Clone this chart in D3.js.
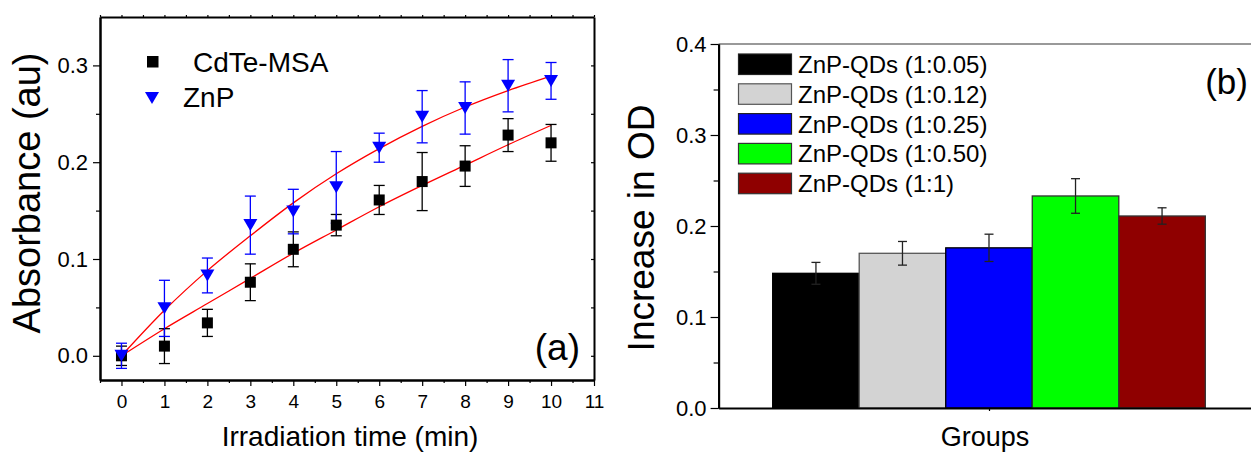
<!DOCTYPE html>
<html>
<head>
<meta charset="utf-8">
<script src="https://cdn.jsdelivr.net/npm/d3@7"></script>
<style>
  html, body { margin: 0; padding: 0; background: #fff; }
  svg { display: block; font-family: Arial, "Liberation Sans", sans-serif; }
</style>
</head>
<body>
<svg id="chart" width="1251" height="453"></svg>
<script>
// ---------- Panel (a) data ----------
const times = [0, 1, 2, 3, 4, 5, 6, 7, 8, 9, 10];
const cdteValues = [0.000, 0.010, 0.034, 0.076, 0.110, 0.135, 0.161, 0.180, 0.196, 0.228, 0.220];
const cdteErrors = [0.010, 0.018, 0.014, 0.019, 0.018, 0.011, 0.015, 0.030, 0.021, 0.017, 0.019];
const znpValues  = [0.000, 0.049, 0.083, 0.135, 0.149, 0.174, 0.215, 0.247, 0.256, 0.279, 0.284];
const znpErrors  = [0.013, 0.029, 0.018, 0.030, 0.023, 0.037, 0.015, 0.027, 0.027, 0.027, 0.019];
const cdteFit    = [0.000, 0.028, 0.054, 0.080, 0.106, 0.130, 0.154, 0.176, 0.197, 0.218, 0.238];
const znpFit     = [0.000, 0.047, 0.088, 0.124, 0.158, 0.188, 0.214, 0.237, 0.257, 0.274, 0.289];
const xTicksA = [0, 1, 2, 3, 4, 5, 6, 7, 8, 9, 10, 11];
const yTicksA = [0.0, 0.1, 0.2, 0.3];
const seriesNamesA = ["CdTe-MSA", "ZnP"];

// ---------- Panel (b) data ----------
const groups = ["ZnP-QDs (1:0.05)", "ZnP-QDs (1:0.12)", "ZnP-QDs (1:0.25)", "ZnP-QDs (1:0.50)", "ZnP-QDs (1:1)"];
const barValues = [0.148, 0.170, 0.176, 0.233, 0.211];
const barErrors = [0.012, 0.013, 0.015, 0.019, 0.009];
const yTicksB = [0.0, 0.1, 0.2, 0.3, 0.4];

// styles
const barColors = ["#000000", "#d3d3d3", "#0000ff", "#00ff00", "#8f0000"];
const barStrokes = ["#000000", "#555555", "#000000", "#333333", "#333333"];

const svg = d3.select("#chart");
const font = 'Arial, "Liberation Sans", sans-serif';

// ================= Panel (a) =================
const xA = d3.scaleLinear().domain([-0.5, 11]).range([100, 594]);
const yA = d3.scaleLinear().domain([-0.025, 0.35]).range([380, 17]);
const gA = svg.append("g");

const xMinorA = d3.range(-0.5, 11.01, 0.5).filter(v => !Number.isInteger(v));
const yMinorA = [0.05, 0.15, 0.25];

function styleAxis(g, w) {
  g.selectAll(".domain").attr("stroke", "#000").attr("stroke-width", w);
  g.selectAll(".tick line").attr("stroke", "#000").attr("stroke-width", 1.2);
}

// bottom axis
gA.append("g").attr("transform", `translate(0,${yA.range()[0]})`)
  .call(d3.axisBottom(xA).tickValues(xMinorA).tickSize(3).tickFormat("").tickSizeOuter(0))
  .call(g => styleAxis(g, 2));
gA.append("g").attr("transform", `translate(0,${yA.range()[0]})`)
  .call(d3.axisBottom(xA).tickValues(xTicksA).tickSize(6).tickPadding(9).tickFormat(d3.format("d")).tickSizeOuter(0))
  .call(g => styleAxis(g, 2))
  .call(g => g.selectAll("text").attr("font-size", 19).attr("font-family", font).attr("fill", "#000"));
// top axis
gA.append("g").attr("transform", `translate(0,${yA.range()[1]})`)
  .call(d3.axisTop(xA).tickValues(xMinorA.concat(xTicksA)).tickSize(2).tickFormat("").tickSizeOuter(0))
  .call(g => styleAxis(g, 2));
// left axis
gA.append("g").attr("transform", `translate(${xA.range()[0]},0)`)
  .call(d3.axisLeft(yA).tickValues(yMinorA).tickSize(4).tickFormat("").tickSizeOuter(0))
  .call(g => styleAxis(g, 2));
gA.append("g").attr("transform", `translate(${xA.range()[0]},0)`)
  .call(d3.axisLeft(yA).tickValues(yTicksA).tickSize(7).tickPadding(5).tickFormat(d3.format(".1f")).tickSizeOuter(0))
  .call(g => styleAxis(g, 2))
  .call(g => g.selectAll("text").attr("font-size", 22).attr("font-family", font).attr("fill", "#000"));
// right axis
gA.append("g").attr("transform", `translate(${xA.range()[1]},0)`)
  .call(d3.axisRight(yA).tickValues(yMinorA.concat(yTicksA)).tickSize(-3).tickFormat("").tickSizeOuter(0))
  .call(g => styleAxis(g, 2));

// fit lines
const line = d3.line().x(d => xA(d[0])).y(d => yA(d[1])).curve(d3.curveMonotoneX);
[cdteFit, znpFit].forEach(fit => {
  gA.append("path")
    .attr("d", line(times.map((t, i) => [t, fit[i]])))
    .attr("fill", "none").attr("stroke", "#ff0000").attr("stroke-width", 1.3);
});

// error bars
function errBars(vals, errs, color, cap) {
  const g = gA.append("g").attr("stroke", color).attr("stroke-width", 1.3);
  times.forEach((t, i) => {
    const x = xA(t), y1 = yA(vals[i] + errs[i]), y0 = yA(vals[i] - errs[i]);
    g.append("line").attr("x1", x).attr("x2", x).attr("y1", y1).attr("y2", y0);
    g.append("line").attr("x1", x - cap).attr("x2", x + cap).attr("y1", y1).attr("y2", y1);
    g.append("line").attr("x1", x - cap).attr("x2", x + cap).attr("y1", y0).attr("y2", y0);
  });
}
errBars(cdteValues, cdteErrors, "#000", 5.5);
errBars(znpValues, znpErrors, "#0000ff", 5.5);

// markers
const sq = 11;
gA.append("g").selectAll("rect").data(times).join("rect")
  .attr("x", (d) => xA(d) - sq / 2)
  .attr("y", (d, i) => yA(cdteValues[i]) - sq / 2)
  .attr("width", sq).attr("height", sq).attr("fill", "#000");
function triDown(cx, cy, w, h) {
  return `M${cx - w / 2},${cy - h / 2}L${cx + w / 2},${cy - h / 2}L${cx},${cy + h / 2}Z`;
}
gA.append("g").selectAll("path").data(times).join("path")
  .attr("d", (d, i) => triDown(xA(d), yA(znpValues[i]), 14, 12))
  .attr("fill", "#0000ff");

// legend (a)
gA.append("rect").attr("x", 147).attr("y", 56).attr("width", 11.5).attr("height", 11.5).attr("fill", "#000");
gA.append("text").attr("x", 193).attr("y", 72).attr("font-size", 28).attr("font-family", font).text(seriesNamesA[0]);
gA.append("path").attr("d", triDown(152, 98, 14, 12)).attr("fill", "#0000ff");
gA.append("text").attr("x", 183).attr("y", 107).attr("font-size", 28).attr("font-family", font).text(seriesNamesA[1]);

// titles (a)
gA.append("text").attr("x", 350).attr("y", 446).attr("text-anchor", "middle")
  .attr("font-size", 28).attr("font-family", font).text("Irradiation time (min)");
gA.append("text").attr("transform", "translate(40,193) rotate(-90)").attr("text-anchor", "middle")
  .attr("font-size", 38).attr("font-family", font).text("Absorbance (au)");
gA.append("text").attr("x", 580).attr("y", 360).attr("text-anchor", "end")
  .attr("font-size", 37).attr("font-family", font).text("(a)");

// ================= Panel (b) =================
const xB = d3.scaleLinear().domain([0.5, 1.5]).range([718.6, 1259.4]);
const yB = d3.scaleLinear().domain([0, 0.4]).range([408, 44]);
const band = d3.scaleBand().domain(groups).range([xB(0.6), xB(1.4)]).padding(0);
const gB = svg.append("g");

// top border (gray)
gB.append("line").attr("x1", xB.range()[0]).attr("x2", xB.range()[1])
  .attr("y1", yB.range()[1]).attr("y2", yB.range()[1])
  .attr("stroke", "#777").attr("stroke-width", 1.5);

// bars
gB.append("g").selectAll("rect").data(groups).join("rect")
  .attr("x", d => band(d))
  .attr("y", (d, i) => yB(barValues[i]))
  .attr("width", band.bandwidth())
  .attr("height", (d, i) => yB(0) - yB(barValues[i]))
  .attr("fill", (d, i) => barColors[i])
  .attr("stroke", (d, i) => barStrokes[i])
  .attr("stroke-width", 1.3);

// error bars
const eb = gB.append("g").attr("stroke", "#222").attr("stroke-width", 1.3);
groups.forEach((g, i) => {
  const x = band(g) + band.bandwidth() / 2;
  const y1 = yB(barValues[i] + barErrors[i]), y0 = yB(barValues[i] - barErrors[i]);
  eb.append("line").attr("x1", x).attr("x2", x).attr("y1", y1).attr("y2", y0);
  eb.append("line").attr("x1", x - 4.5).attr("x2", x + 4.5).attr("y1", y1).attr("y2", y1);
  eb.append("line").attr("x1", x - 4.5).attr("x2", x + 4.5).attr("y1", y0).attr("y2", y0);
});

// axes (b)
gB.append("g").attr("transform", `translate(0,${yB.range()[0]})`)
  .call(d3.axisBottom(xB).tickValues([1]).tickSize(3).tickFormat("").tickSizeOuter(0))
  .call(g => styleAxis(g, 2));
const yMinorB = [0.05, 0.15, 0.25, 0.35];
gB.append("g").attr("transform", `translate(${xB.range()[0]},0)`)
  .call(d3.axisLeft(yB).tickValues(yMinorB).tickSize(5).tickFormat("").tickSizeOuter(0))
  .call(g => styleAxis(g, 2));
gB.append("g").attr("transform", `translate(${xB.range()[0]},0)`)
  .call(d3.axisLeft(yB).tickValues(yTicksB).tickSize(8).tickPadding(4).tickFormat(d3.format(".1f")).tickSizeOuter(0))
  .call(g => styleAxis(g, 2))
  .call(g => g.selectAll("text").attr("font-size", 22).attr("font-family", font).attr("fill", "#000"));

// legend (b)
const legB = gB.append("g");
groups.forEach((g, i) => {
  const top = 54 + i * 29.8;
  legB.append("rect").attr("x", 738.5).attr("y", top).attr("width", 53).attr("height", 20.5)
    .attr("fill", barColors[i]).attr("stroke", barStrokes[i] === "#000000" ? "#222" : barStrokes[i]).attr("stroke-width", 1.2);
  legB.append("text").attr("x", 798).attr("y", top + 19).attr("font-size", 24).attr("font-family", font).text(g);
});

// titles (b)
gB.append("text").attr("x", 985).attr("y", 446).attr("text-anchor", "middle")
  .attr("font-size", 27).attr("font-family", font).text("Groups");
gB.append("text").attr("transform", "translate(654,228) rotate(-90)").attr("text-anchor", "middle")
  .attr("font-size", 37).attr("font-family", font).text("Increase in OD");
gB.append("text").attr("x", 1248).attr("y", 94).attr("text-anchor", "end")
  .attr("font-size", 35).attr("font-family", font).text("(b)");
</script>
</body>
</html>
